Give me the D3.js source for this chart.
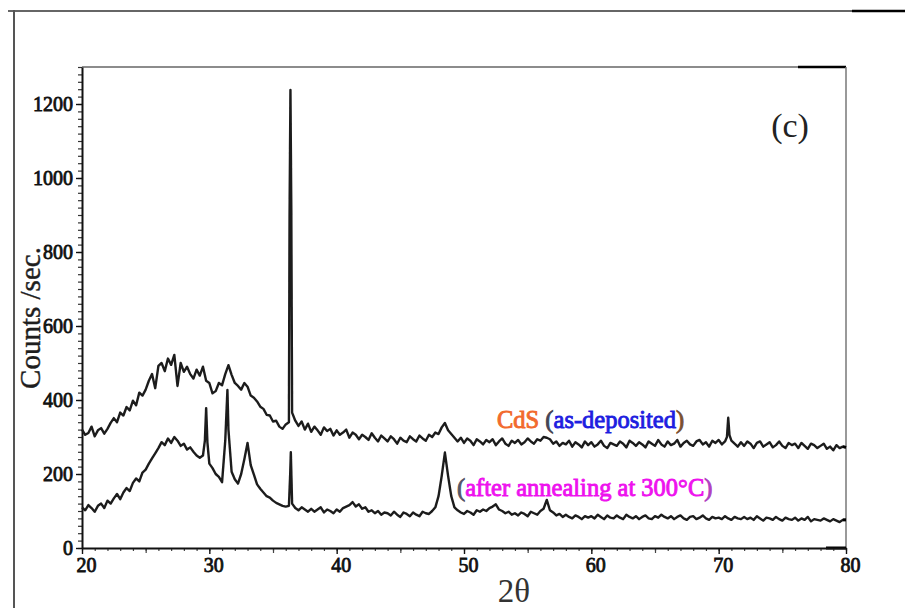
<!DOCTYPE html>
<html lang="en">
<head>
<meta charset="utf-8">
<title>CdS XRD</title>
<script src="https://d3js.org/d3.v7.min.js"></script>
<style>
body { margin:0; background:#fff; }
text { font-family: "Liberation Serif", "Times New Roman", serif; }
</style>
</head>
<body>
<div id="container"></div>
<script>
// 2theta grid: 20..80 every 0.25 deg
var thetaStart = 20, thetaStep = 0.25;

// as-deposited counts, one row per 2 degrees
var asDeposited = [
  320,306,311,328,302,318,324,309,
  322,338,351,340,366,358,381,372,
  398,386,420,412,428,452,470,432,
  492,500,478,512,495,522,438,500,
  476,490,470,458,482,466,490,452,
  446,418,424,446,440,470,494,468,
  446,438,428,446,436,412,406,396,
  382,376,360,358,342,344,328,322,
  334,340,366,344,330,342,320,336,
  314,328,318,306,326,316,322,304,
  318,306,312,320,298,312,306,294,
  306,300,292,310,298,288,304,296,
  288,302,294,282,298,290,286,302,
  294,288,304,296,290,306,300,312,
  308,326,338,318,308,298,288,298,
  284,296,290,278,294,288,280,292,
  286,294,278,288,296,282,276,290,
  284,292,280,286,296,288,282,294,
  290,300,298,294,282,288,276,284,
  280,290,274,286,280,272,288,278,
  286,274,280,290,276,270,284,280,
  276,288,282,272,290,284,276,286,
  280,272,288,282,276,292,280,274,
  288,278,282,292,274,284,290,280,
  276,288,292,280,286,274,290,284,
  292,280,288,352,290,282,274,286,
  276,288,282,270,284,288,274,280,
  286,272,278,288,276,270,284,278,
  282,270,284,276,268,282,278,270,
  276,282,268,274,264,278,270,274,
  272
];
// sharp reflections between grid points [2theta, counts]
var asDepositedPeaks = [[36.30, 900], [36.37, 1238], [36.44, 900], [70.65, 300], [70.85, 305]];

// annealed at 300 C
var annealed = [
  110,102,116,108,98,114,120,108,
  128,120,134,146,132,150,162,154,
  176,188,180,204,212,228,242,256,
  270,286,278,296,284,300,290,276,
  282,266,272,260,250,244,250,378,
  228,216,200,192,178,290,320,206,
  186,174,200,240,284,224,198,172,
  160,150,140,136,128,122,118,114,
  112,114,120,108,102,110,104,98,
  106,98,104,110,96,104,100,94,
  104,98,108,112,116,124,112,118,
  106,110,98,102,94,100,90,96,
  94,88,98,90,84,96,92,86,
  96,90,86,98,94,92,100,110,
  140,195,258,195,140,110,102,96,
  92,100,96,90,102,98,104,100,
  108,112,118,104,100,94,98,90,
  94,88,96,92,86,98,94,90,
  100,106,130,102,96,88,92,84,
  90,84,80,88,84,78,86,82,
  86,80,90,84,78,88,82,80,
  88,82,78,90,84,80,86,78,
  84,88,80,78,86,82,90,84,
  80,86,78,84,88,80,76,84,
  86,78,82,88,80,76,84,80,
  82,78,86,80,76,84,80,78,
  84,78,82,76,86,80,74,82,
  80,76,84,78,74,82,78,76,
  82,74,80,76,84,72,78,76,
  74,80,76,72,78,74,70,76,
  76
];
var annealedPeaks = [[29.65, 290], [29.85, 285], [31.42, 427], [36.35, 200], [36.40, 259], [36.45, 190]];

var xTicks = [20, 30, 40, 50, 60, 70, 80];
var yTicks = [0, 200, 400, 600, 800, 1000, 1200];

var w = 905, h = 608;
var svg = d3.select("#container").append("svg").attr("width", w).attr("height", h);

// slight softening of the scanned trace
svg.append("defs").append("filter").attr("id", "soft")
  .append("feGaussianBlur").attr("stdDeviation", 0.6);

var x = d3.scaleLinear().domain([20, 80]).range([82, 846]);
var y = d3.scaleLinear().domain([0, 1300]).range([548, 67]);

// outer frame
svg.append("line").attr("x1", 8).attr("x2", 905).attr("y1", 11).attr("y2", 11).attr("stroke", "#666").attr("stroke-width", 2);
svg.append("line").attr("x1", 852).attr("x2", 905).attr("y1", 11).attr("y2", 11).attr("stroke", "#000").attr("stroke-width", 2.5);
svg.append("line").attr("x1", 14).attr("x2", 14).attr("y1", 10).attr("y2", 608).attr("stroke", "#555").attr("stroke-width", 2);

// plot box top / right
svg.append("line").attr("x1", x(20)).attr("x2", x(80)).attr("y1", y(1300)).attr("y2", y(1300)).attr("stroke", "#666").attr("stroke-width", 1.5);
svg.append("line").attr("x1", 798).attr("x2", x(80)).attr("y1", y(1300)).attr("y2", y(1300)).attr("stroke", "#000").attr("stroke-width", 2.5);
svg.append("line").attr("x1", x(80)).attr("x2", x(80)).attr("y1", y(1300)).attr("y2", y(0)).attr("stroke", "#777").attr("stroke-width", 1.5);
svg.append("line").attr("x1", 826).attr("x2", x(80)).attr("y1", y(0)).attr("y2", y(0)).attr("stroke", "#000").attr("stroke-width", 3);

// minor ticks
svg.append("g").attr("transform", "translate(" + x(20) + ",0)")
  .call(d3.axisLeft(y).tickValues(d3.range(0, 1301, 20)).tickSize(4).tickFormat(""))
  .call(function(g) { g.select(".domain").remove(); g.selectAll("line").attr("stroke", "#333").attr("stroke-width", 1.2); });
svg.append("g").attr("transform", "translate(0," + y(0) + ")")
  .call(d3.axisBottom(x).tickValues(d3.range(20, 80.1, 1)).tickSize(3).tickFormat(""))
  .call(function(g) { g.select(".domain").remove(); g.selectAll("line").attr("stroke", "#444").attr("stroke-width", 1.2); });
svg.append("g").attr("transform", "translate(0," + y(0) + ")")
  .call(d3.axisBottom(x).tickValues(d3.range(25, 80, 10)).tickSize(5).tickFormat(""))
  .call(function(g) { g.select(".domain").remove(); g.selectAll("line").attr("stroke", "#444").attr("stroke-width", 1.2); });

// major axes
var yAxis = svg.append("g").attr("transform", "translate(" + x(20) + ",0)")
  .call(d3.axisLeft(y).tickValues(yTicks).tickFormat(d3.format("d")).tickSize(6).tickSizeOuter(0).tickPadding(3));
var xAxis = svg.append("g").attr("transform", "translate(0," + y(0) + ")")
  .call(d3.axisBottom(x).tickValues(xTicks).tickFormat(d3.format("d")).tickSize(6).tickSizeOuter(0).tickPadding(4));
[yAxis, xAxis].forEach(function(g) {
  g.select(".domain").attr("stroke", "#111").attr("stroke-width", 2);
  g.selectAll(".tick line").attr("stroke", "#111").attr("stroke-width", 1.4);
  // heavy serif digits: regular face thickened with an outline
  g.selectAll("text").style("font-family", "'Liberation Serif', serif").attr("font-weight", "normal")
    .attr("font-size", 20).attr("fill", "#111").attr("stroke", "#111").attr("stroke-width", 0.8);
});
xAxis.selectAll("text").attr("dx", 4);

// data lines
function series(vals, peaks) {
  var pts = vals.map(function(v, i) { return [thetaStart + i * thetaStep, v]; });
  return pts.concat(peaks).sort(function(a, b) { return a[0] - b[0]; });
}
var line = d3.line().x(function(d) { return x(d[0]); }).y(function(d) { return y(d[1]); });

[series(asDeposited, asDepositedPeaks), series(annealed, annealedPeaks)].forEach(function(pts) {
  svg.append("path").datum(pts).attr("d", line).attr("filter", "url(#soft)")
    .attr("fill", "none").attr("stroke", "#1c1c1c").attr("stroke-width", 2.4).attr("stroke-linejoin", "round");
  // short heavy end mark at 80 deg
  svg.append("path").datum(pts.slice(-2)).attr("d", line)
    .attr("fill", "none").attr("stroke", "#000").attr("stroke-width", 3);
});

// axis titles
svg.append("text").attr("transform", "translate(40,318) rotate(-90)").attr("text-anchor", "middle")
  .attr("font-size", 29).attr("fill", "#1e1e1e").attr("stroke", "#1e1e1e").attr("stroke-width", 0.4).text("Counts /sec.");
svg.append("text").attr("x", 514).attr("y", 602).attr("text-anchor", "middle")
  .attr("font-size", 33).attr("fill", "#333").text("2θ");
svg.append("text").attr("x", 790).attr("y", 137).attr("text-anchor", "middle")
  .attr("font-size", 34).attr("fill", "#222").text("(c)");

// labels (thickened serif)
function part(t, col, s) {
  t.append("tspan").attr("fill", col).attr("stroke", col).attr("stroke-width", 0.9).text(s);
}
var t1 = svg.append("text").attr("x", 497).attr("y", 428).attr("font-size", 24.5);
part(t1, "#f26a2e", "CdS ");
part(t1, "#445", "(");
part(t1, "#1e1ee0", "as-deposited");
part(t1, "#7a5030", ")");

var t2 = svg.append("text").attr("x", 457).attr("y", 496).attr("font-size", 24.5);
part(t2, "#556", "(");
part(t2, "#ee12ee", "after annealing at 300°C");
part(t2, "#b040c0", ")");
</script>
</body>
</html>
